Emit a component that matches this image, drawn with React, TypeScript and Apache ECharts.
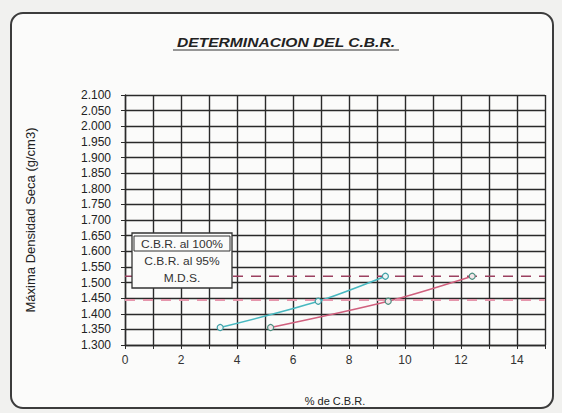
import React, { useEffect, useRef } from "react";
import * as echarts from "echarts";

const titleText = "DETERMINACION DEL C.B.R.";
const xAxisTitle = "% de C.B.R.";
const yAxisTitle = "Máxima Densidad Seca (g/cm3)";
const legendNames = ["C.B.R. al 100%", "C.B.R. al 95%", "M.D.S."];

const densities = [1.356, 1.44, 1.52];
const cbrCurveA = [3.4, 6.9, 9.3];
const cbrCurveB = [5.2, 9.4, 12.4];
const mdsValue = 1.52;
const mds95Value = 1.444;
const xRange = [0, 15];
const yRange = [1.3, 2.1];

export default function App() {
  const ref = useRef<HTMLDivElement>(null);
  useEffect(() => {
    if (!ref.current) return;
    const chart = echarts.init(ref.current, null, { renderer: "svg" });
    const font = "Liberation Sans, Arial, sans-serif";
    const gridColor = "#2a2a2a";
    chart.setOption({
      animation: false,
      backgroundColor: "#f1f1ef",
      textStyle: { fontFamily: font },
      grid: { left: 125, right: 17, top: 95, bottom: 68 },
      xAxis: {
        type: "value",
        min: xRange[0],
        max: xRange[1],
        interval: 1,
        axisLine: { lineStyle: { color: gridColor, width: 1.4 } },
        axisTick: { show: true, length: 4, lineStyle: { color: gridColor } },
        axisLabel: {
          fontSize: 12,
          color: "#333",
          margin: 9,
          formatter: (v: number) => (v % 2 === 0 ? String(v) : ""),
        },
        splitLine: { show: true, lineStyle: { color: gridColor, width: 1.4 } },
        name: xAxisTitle,
        nameLocation: "middle",
        nameGap: 50,
        nameTextStyle: { fontSize: 11, color: "#222" },
      },
      yAxis: {
        type: "value",
        min: yRange[0],
        max: yRange[1],
        interval: 0.05,
        axisLine: { lineStyle: { color: gridColor, width: 1.4 } },
        axisTick: { show: true, length: 4, lineStyle: { color: gridColor } },
        axisLabel: {
          fontSize: 12,
          color: "#222",
          margin: 14,
          formatter: (v: number) => v.toFixed(3),
        },
        splitLine: { show: true, lineStyle: { color: gridColor, width: 1.4 } },
        name: yAxisTitle,
        nameLocation: "middle",
        nameGap: 88,
        nameTextStyle: { fontSize: 13, color: "#222" },
      },
      series: [
        {
          name: legendNames[0],
          type: "line",
          smooth: 0.3,
          data: cbrCurveA.map((x, i) => [x, densities[i]]),
          symbol: "circle",
          symbolSize: 6,
          lineStyle: { color: "#48b8c0", width: 1.5 },
          itemStyle: { color: "#eef6f6", borderColor: "#3f9fa6", borderWidth: 1.2 },
        },
        {
          name: legendNames[1],
          type: "line",
          smooth: 0.3,
          data: cbrCurveB.map((x, i) => [x, densities[i]]),
          symbol: "circle",
          symbolSize: 6,
          lineStyle: { color: "#d0607e", width: 1.5 },
          itemStyle: { color: "#f4e6ea", borderColor: "#4c8f80", borderWidth: 1.2 },
        },
        {
          name: legendNames[2],
          type: "line",
          data: [
            [xRange[0], mdsValue],
            [xRange[1], mdsValue],
          ],
          symbol: "none",
          lineStyle: { color: "#9c4060", width: 1.6, type: [10, 8] },
        },
        {
          name: "95% M.D.S.",
          type: "line",
          data: [
            [xRange[0], mds95Value],
            [xRange[1], mds95Value],
          ],
          symbol: "none",
          lineStyle: { color: "#e596ac", width: 1.8, type: [10, 8] },
        },
      ],
      graphic: [
        {
          type: "rect",
          shape: { x: 11, y: 13, width: 542, height: 395, r: 12 },
          style: { fill: "#fbfbfa", stroke: "#3c3c3c", lineWidth: 2 },
          z: -10,
        },
        {
          type: "text",
          x: 286,
          y: 43,
          scaleX: 1.3,
          style: {
            text: titleText,
            fontSize: 12,
            fontWeight: "bold",
            fontStyle: "italic",
            fontFamily: font,
            fill: "#222",
            align: "center",
            verticalAlign: "middle",
          },
        },
        {
          type: "line",
          shape: { x1: 173, y1: 50, x2: 399, y2: 50 },
          style: { stroke: "#333", lineWidth: 1 },
        },
        {
          type: "rect",
          z: 100,
          shape: { x: 132, y: 233, width: 100, height: 55 },
          style: { fill: "#fbfbfa", stroke: "#333", lineWidth: 1.3 },
        },
        {
          type: "rect",
          z: 101,
          shape: { x: 134, y: 236, width: 96, height: 15 },
          style: { fill: "none", stroke: "#333", lineWidth: 1 },
        },
        ...legendNames.map((n, i) => ({
          type: "text",
          z: 102,
          x: 182,
          y: 244 + i * 17,
          scaleX: 1.2,
          style: {
            text: n,
            fontSize: 10,
            fontFamily: font,
            fill: "#333",
            align: "center",
            verticalAlign: "middle",
          },
        })),
      ],
    });
    return () => chart.dispose();
  }, []);
  return (
    <div
      ref={ref}
      style={{ position: "fixed", left: 0, top: 0, width: 562, height: 413 }}
    />
  );
}
